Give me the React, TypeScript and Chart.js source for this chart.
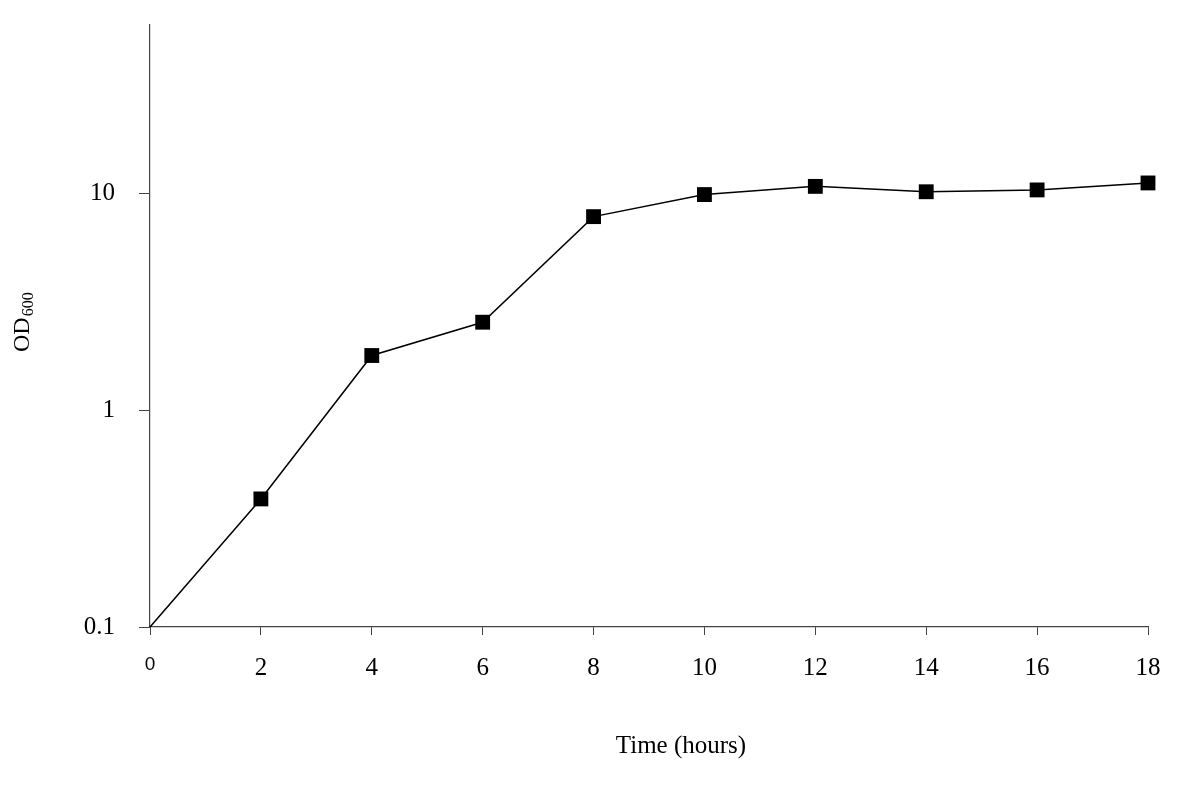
import React, { useEffect, useRef } from "react";
import { Chart, registerables } from "chart.js";

Chart.register(...registerables);

const hours = [0, 2, 4, 6, 8, 10, 12, 14, 16, 18];
const od600 = [0.1, 0.39, 1.79, 2.55, 7.83, 9.9, 10.8, 10.2, 10.4, 11.2];
const xTickValues = [0, 2, 4, 6, 8, 10, 12, 14, 16, 18];
const yTickValues = [0.1, 1, 10];
const yTickLabels = ["0.1", "1", "10"];
const xTitle = "Time (hours)";
const yTitleMain = "OD";
const yTitleSub = "600";

const SERIF = '"Liberation Serif", "Times New Roman", serif';
const SANS = '"Liberation Sans", Arial, sans-serif';

const titlesPlugin = {
  id: "titles",
  afterDraw(chart: any) {
    const ctx = chart.ctx;
    ctx.save();
    ctx.fillStyle = "#000";
    ctx.font = `25px ${SERIF}`;
    ctx.textAlign = "center";
    ctx.textBaseline = "alphabetic";
    ctx.fillText(xTitle, 681, 753);
    ctx.translate(29, 352);
    ctx.rotate(-Math.PI / 2);
    ctx.textAlign = "left";
    ctx.font = `24px ${SERIF}`;
    ctx.fillText(yTitleMain, 0, 0);
    const w = ctx.measureText(yTitleMain).width;
    ctx.font = `16px ${SERIF}`;
    ctx.fillText(yTitleSub, w + 1, 4);
    ctx.restore();
  },
};

export default function App() {
  const ref = useRef<HTMLCanvasElement>(null);
  useEffect(() => {
    document.body.style.margin = "0";
    const chart = new Chart(ref.current!, {
      type: "line",
      data: {
        datasets: [
          {
            data: hours.map((h, i) => ({ x: h, y: od600[i] })),
            borderColor: "#000",
            borderWidth: 1.5,
            backgroundColor: "#000",
            pointStyle: "rect",
            pointRadius: hours.map((h, i) => (i === 0 ? 0 : 10.5)),
            pointBorderWidth: 0,
            pointBackgroundColor: "#000",
            tension: 0,
            clip: false,
          },
        ],
      },
      options: {
        animation: false,
        responsive: false,
        events: [],
        layout: { padding: { left: 0, top: 25, right: 52, bottom: 0 } },
        plugins: { legend: { display: false }, tooltip: { enabled: false } },
        scales: {
          x: {
            type: "linear",
            min: 0,
            max: 18,
            afterBuildTicks: (s: any) => {
              s.ticks = xTickValues.map((v) => ({ value: v }));
            },
            afterFit: (s: any) => {
              s.height = 159;
              s.paddingLeft = 0;
              s.paddingRight = 0;
            },
            grid: { drawOnChartArea: false, tickLength: 8, color: "#444", lineWidth: 1 },
            border: { display: true, color: "#444", width: 1.2 },
            ticks: {
              color: "#000",
              padding: 18,
              maxRotation: 0,
              autoSkip: false,
              font: (c: any) =>
                c.tick && c.tick.value === 0
                  ? { family: SANS, size: 19 }
                  : { family: SERIF, size: 25 },
              callback: (v: any) => String(v),
            },
          },
          y: {
            type: "logarithmic",
            min: 0.1,
            max: 60,
            afterBuildTicks: (s: any) => {
              s.ticks = yTickValues.map((v) => ({ value: v }));
            },
            afterFit: (s: any) => {
              s.width = 150;
              s.paddingTop = 0;
              s.paddingBottom = 0;
            },
            grid: { drawOnChartArea: false, tickLength: 11, color: "#444", lineWidth: 1 },
            border: { display: true, color: "#444", width: 1.2 },
            ticks: {
              color: "#000",
              padding: 24,
              autoSkip: false,
              font: { family: SERIF, size: 25 },
              callback: (v: any) => {
                const i = yTickValues.indexOf(Number(v));
                return i >= 0 ? yTickLabels[i] : "";
              },
            },
          },
        },
      },
      plugins: [titlesPlugin],
    });
    return () => chart.destroy();
  }, []);
  return (
    <div style={{ position: "absolute", left: 0, top: 0, width: 1200, height: 786, background: "#fff" }}>
      <canvas ref={ref} width={1200} height={786} style={{ width: 1200, height: 786 }} />
    </div>
  );
}
